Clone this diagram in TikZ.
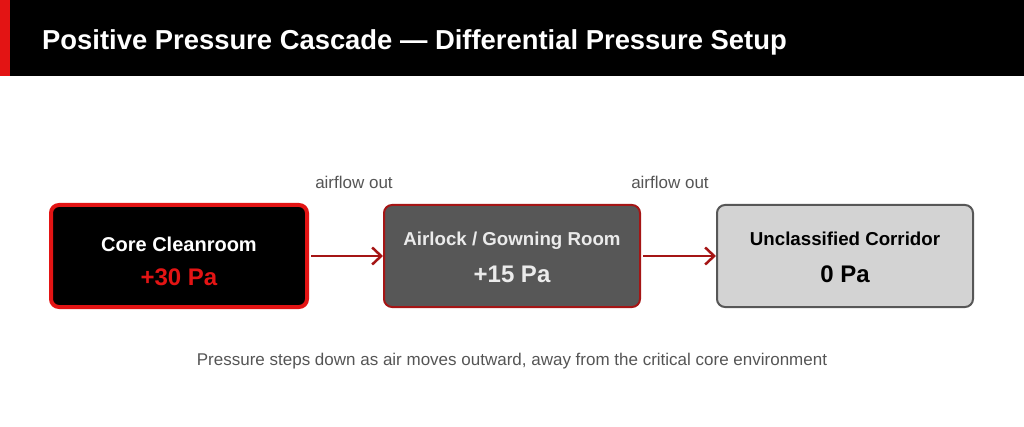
\documentclass[tikz,border=0pt]{standalone}
\usepackage{fontspec}
\setmainfont{Liberation Sans}
\usetikzlibrary{arrows.meta}
\definecolor{cascred}{HTML}{E31414}
\definecolor{darkred}{HTML}{A51515}
\definecolor{midgray}{HTML}{575757}
\definecolor{lightgray}{HTML}{D3D3D3}
\definecolor{textgray}{HTML}{555555}
\tikzset{
  room/.style={rounded corners=8pt, minimum width=256pt, minimum height=102pt},
  roomname/.style={anchor=base, font=\bfseries\fontsize{18.7}{22}\selectfont},
  roomvalue/.style={anchor=base, font=\bfseries\fontsize{24}{28}\selectfont},
  flow/.style={draw=darkred, line width=2.5pt, shorten <=2pt, -{Straight Barb[length=9pt,width=17pt]}},
  flowlabel/.style={text=textgray, font=\fontsize{17}{20}\selectfont},
}
\begin{document}
\begin{tikzpicture}[x=1pt,y=-1pt]
\useasboundingbox (0,0) rectangle (1024,427);
% title bar
\fill[black] (0,0) rectangle (1024,76);
\fill[cascred] (0,0) rectangle (10,76);
\node[anchor=base west, text=white, font=\bfseries\fontsize{27.4}{32}\selectfont, inner sep=0pt] (title) at (42,50) {Positive Pressure Cascade — Differential Pressure Setup};
% rooms
\node[room, fill=black, draw=cascred, line width=4pt] (core) at (179,256) {};
\node[room, fill=midgray, draw=darkred, line width=2pt] (airlock) at (512,256) {};
\node[room, fill=lightgray, draw=midgray, line width=2pt] (corridor) at (845,256) {};
\node[roomname, text=white, font=\bfseries\fontsize{20}{24}\selectfont] (corename) at (179,252) {Core Cleanroom};
\node[roomvalue, text=cascred] (coreval) at (179,286) {+30 Pa};
\node[roomname, text=white!92!black] (airlockname) at (512,246) {Airlock / Gowning Room};
\node[roomvalue, text=white!92!black] (airlockval) at (512,283) {+15 Pa};
\node[roomname, text=black] (corridorname) at (845,246) {Unclassified Corridor};
\node[roomvalue, text=black] (corridorval) at (845,283) {0 Pa};
% airflow
\draw[flow] (core) -- (airlock);
\draw[flow] (airlock) -- (corridor);
\node[flowlabel] (out1) at (354,182) {airflow out};
\node[flowlabel] (out2) at (670,182) {airflow out};
% caption
\node[flowlabel] (caption) at (512,361) {Pressure steps down as air moves outward, away from the critical core environment};
\end{tikzpicture}
\end{document}
